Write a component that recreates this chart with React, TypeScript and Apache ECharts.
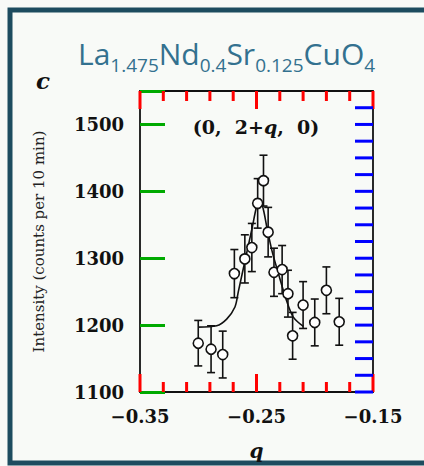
import React, { useEffect, useRef } from "react";
import * as echarts from "echarts";

// Measured points
const qVals = [-0.300, -0.289, -0.279, -0.269, -0.260, -0.254, -0.249, -0.244, -0.240, -0.235, -0.228, -0.223, -0.219, -0.210, -0.200, -0.190, -0.179];
const intensity = [1173, 1164, 1156, 1277, 1299, 1316, 1382, 1416, 1339, 1279, 1283, 1247, 1184, 1230, 1204, 1252, 1205];
const errors = [34, 35, 35, 36, 36, 36, 37, 38, 37, 36, 36, 35, 35, 35, 35, 35, 35];

// Fitted curve
const fitQ = [-0.3002, -0.2842, -0.2756, -0.2685, -0.2656, -0.2584, -0.2539, -0.2498, -0.2470, -0.2440, -0.2412, -0.2367, -0.2315, -0.2241, -0.2184, -0.2098];
const fitI = [1197, 1199, 1209, 1227, 1250, 1308, 1344, 1378, 1388, 1372, 1347, 1311, 1279, 1236, 1212, 1198];

// Ticks
const xMajor = [-0.35, -0.25, -0.15];
const xMinor = [-0.33, -0.31, -0.29, -0.27, -0.23, -0.21, -0.19, -0.17];
const yMajor = [1100, 1200, 1300, 1400, 1500];
const yMinor = [1125, 1150, 1175, 1225, 1250, 1275, 1325, 1350, 1375, 1425, 1450, 1475, 1525];

const X_MIN = -0.35, X_MAX = -0.15, Y_MIN = 1100, Y_MAX = 1550;
const INK = "#111";
const SERIF = '"DejaVu Serif", serif';
const TITLE_COLOR = "#33718f";
const MAJOR_LEN = 18, MINOR_LEN = 10, TICK_W = 3;

const xTickItems = [
  ...xMajor.map((v) => [v, Y_MIN, Y_MAX, MAJOR_LEN]),
  ...xMinor.map((v) => [v, Y_MIN, Y_MAX, MINOR_LEN]),
];
const yTickItems = [
  ...yMajor.map((v) => [X_MIN, v, v, MAJOR_LEN]),
  ...yMinor.map((v) => [X_MIN, v, v, MINOR_LEN]),
];

export default function App() {
  const ref = useRef<HTMLDivElement>(null);
  useEffect(() => {
    if (!ref.current) return;
    const chart = echarts.init(ref.current, null, { renderer: "svg" });
    const titleRich = {
      m: { fontSize: 30, fontWeight: "normal", fontFamily: '"Open Sans", sans-serif', color: TITLE_COLOR, padding: [0, 0, 6, 0], verticalAlign: "bottom" },
      s: { fontSize: 19, fontWeight: "normal", fontFamily: '"Open Sans", sans-serif', color: TITLE_COLOR, verticalAlign: "bottom" },
    };
    const axisLine = { show: true, onZero: false, lineStyle: { color: INK, width: 1.8 } };
    chart.setOption({
      animation: false,
      backgroundColor: "#f8faf7",
      title: {
        text: "{m|La}{s|1.475}{m|Nd}{s|0.4}{m|Sr}{s|0.125}{m|CuO}{s|4}",
        left: 73,
        top: 33,
        textStyle: { fontWeight: "normal", rich: titleRich },
      },
      grid: { left: 140, right: 51, top: 91, bottom: 66, containLabel: false },
      xAxis: [
        {
          type: "value",
          position: "bottom",
          min: X_MIN,
          max: X_MAX,
          splitLine: { show: false },
          axisLine,
          axisTick: { show: false },
          axisLabel: {
            customValues: xMajor,
            margin: 15,
            formatter: (v: number) => v.toFixed(2).replace("-", "\u2212"),
            fontFamily: SERIF,
            fontWeight: "bold",
            fontSize: 18,
            color: INK,
          },
          name: "q",
          nameLocation: "middle",
          nameGap: 49,
          nameTextStyle: { fontFamily: SERIF, fontStyle: "italic", fontWeight: "bold", fontSize: 20, color: INK },
        },
        {
          type: "value",
          position: "top",
          min: X_MIN,
          max: X_MAX,
          splitLine: { show: false },
          axisLine,
          axisTick: { show: false },
          axisLabel: { show: false },
        },
      ],
      yAxis: [
        {
          type: "value",
          position: "left",
          min: Y_MIN,
          max: Y_MAX,
          interval: 100,
          splitLine: { show: false },
          axisLine,
          axisTick: { show: true, inside: true, length: 25, lineStyle: { color: "#00aa00", width: 3 } },
          axisLabel: {
            customValues: yMajor,
            margin: 16,
            formatter: (v: number) => String(v),
            fontFamily: SERIF,
            fontWeight: "bold",
            fontSize: 18,
            color: INK,
          },
          name: "Intensity (counts per 10 min)",
          nameLocation: "middle",
          nameGap: 94,
          nameRotate: 90,
          nameTextStyle: { fontFamily: SERIF, fontSize: 15, color: "#222" },
        },
        {
          type: "value",
          position: "right",
          min: Y_MIN,
          max: Y_MAX,
          splitLine: { show: false },
          axisLine,
          axisTick: { show: false },
          axisLabel: { show: false },
        },
      ],
      graphic: [
        {
          type: "rect",
          silent: true,
          shape: { x: 10, y: 10, width: 450, height: 453 },
          style: { fill: "transparent", stroke: "#1d4c5f", lineWidth: 5 },
        },
        {
          type: "text",
          style: { text: "c", x: 43, y: 80, align: "center", verticalAlign: "middle", font: 'italic bold 23px "DejaVu Serif"', fill: INK },
        },
        {
          type: "text",
          style: {
            text: "{b|(0,  2+}{i|q}{b|,  0)}",
            x: 256,
            y: 127,
            align: "center",
            verticalAlign: "middle",
            rich: {
              b: { fontFamily: "DejaVu Serif", fontWeight: "bold", fontSize: 19, fill: INK },
              i: { fontFamily: "DejaVu Serif", fontWeight: "bold", fontStyle: "italic", fontSize: 19, fill: INK },
            },
          },
        },
      ],
      series: [
        // x ticks (bottom + top) — red debug
        {
          type: "custom",
          xAxisIndex: 0,
          yAxisIndex: 0,
          z: 5,
          data: xTickItems,
          encode: { x: 0, y: [1, 2] },
          renderItem: (_p: any, api: any) => {
            const x = api.value(0);
            const len = api.value(3);
            const b = api.coord([x, api.value(1)]);
            const t = api.coord([x, api.value(2)]);
            const st = { stroke: "#ff0000", lineWidth: TICK_W };
            return {
              type: "group",
              children: [
                { type: "line", shape: { x1: b[0], y1: b[1], x2: b[0], y2: b[1] - len }, style: st },
                { type: "line", shape: { x1: t[0], y1: t[1], x2: t[0], y2: t[1] + len }, style: st },
              ],
            };
          },
        },
        // y ticks (right side) — blue scatter debug
        {
          type: "scatter",
          xAxisIndex: 0,
          yAxisIndex: 0,
          z: 6,
          symbol: "rect",
          symbolSize: [MAJOR_LEN, TICK_W],
          symbolOffset: [-MAJOR_LEN / 2, 0],
          itemStyle: { color: "#0000ff", opacity: 1 },
          data: yTickItems.map((d) => [X_MAX, d[1]]),
        },
        // error bars
        {
          type: "custom",
          xAxisIndex: 0,
          yAxisIndex: 0,
          z: 2,
          data: qVals.map((q, i) => [q, intensity[i] - errors[i], intensity[i] + errors[i]]),
          encode: { x: 0, y: [1, 2] },
          renderItem: (_p: any, api: any) => {
            const x = api.value(0);
            const lo = api.coord([x, api.value(1)]);
            const hi = api.coord([x, api.value(2)]);
            const w = 4;
            const st = { stroke: INK, lineWidth: 1.6 };
            return {
              type: "group",
              children: [
                { type: "line", shape: { x1: lo[0], y1: lo[1], x2: hi[0], y2: hi[1] }, style: st },
                { type: "line", shape: { x1: lo[0] - w, y1: lo[1], x2: lo[0] + w, y2: lo[1] }, style: st },
                { type: "line", shape: { x1: hi[0] - w, y1: hi[1], x2: hi[0] + w, y2: hi[1] }, style: st },
              ],
            };
          },
        },
        {
          type: "line",
          xAxisIndex: 0,
          yAxisIndex: 0,
          z: 3,
          data: fitQ.map((q, i) => [q, fitI[i]]),
          showSymbol: false,
          symbol: "none",
          smooth: 0.3,
          lineStyle: { color: INK, width: 1.6 },
        },
        {
          type: "scatter",
          xAxisIndex: 0,
          yAxisIndex: 0,
          z: 4,
          data: qVals.map((q, i) => [q, intensity[i]]),
          symbol: "circle",
          symbolSize: 10,
          itemStyle: { color: "#fff", borderColor: INK, borderWidth: 1.6, opacity: 1 },
        },
      ],
    });
    return () => chart.dispose();
  }, []);
  return <div ref={ref} style={{ position: "fixed", left: 0, top: 0, width: 424, height: 466 }} />;
}
